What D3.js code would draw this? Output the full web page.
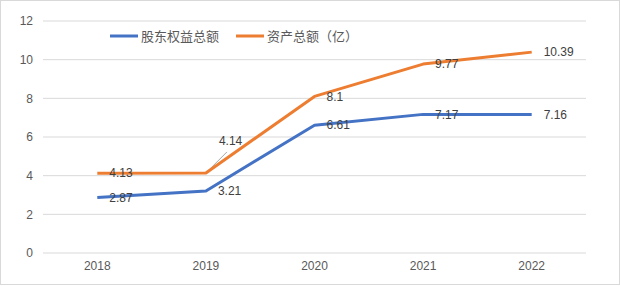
<!DOCTYPE html>
<html>
<head>
<meta charset="utf-8">
<script src="https://cdn.jsdelivr.net/npm/d3@7"></script>
<style>
  body { margin: 0; background: #fff; }
  text { font-family: "Liberation Sans", "Noto Sans CJK SC", sans-serif; }
</style>
</head>
<body>
<svg width="620" height="286"></svg>
<script>
// data
const years = ["2018", "2019", "2020", "2021", "2022"];
const equity = [2.87, 3.21, 6.61, 7.17, 7.16];
const assets = [4.13, 4.14, 8.1, 9.77, 10.39];
const seriesNames = ["股东权益总额", "资产总额（亿）"];
const yTicks = [0, 2, 4, 6, 8, 10, 12];

const colors = ["#4472C4", "#ED7D31"];

const svg = d3.select("svg");

// frame
svg.append("rect")
    .attr("x", 0.5).attr("y", 0.5)
    .attr("width", 619).attr("height", 284)
    .attr("fill", "#fff")
    .attr("stroke", "#d9d9d9");

const plotLeft = 43, plotRight = 586, plotTop = 21, plotBottom = 253;

const x = d3.scalePoint().domain(years).range([plotLeft, plotRight]).padding(0.5);
const y = d3.scaleLinear().domain([0, 12]).range([plotBottom, plotTop]);

// gridlines
svg.append("g").selectAll("line")
    .data(yTicks)
    .enter().append("line")
    .attr("x1", plotLeft).attr("x2", plotRight)
    .attr("y1", d => y(d)).attr("y2", d => y(d))
    .attr("stroke", "#d9d9d9")
    .attr("stroke-width", 1);

// y axis labels
svg.append("g").selectAll("text")
    .data(yTicks)
    .enter().append("text")
    .attr("x", 33)
    .attr("y", d => y(d))
    .attr("dy", "0.35em")
    .attr("text-anchor", "end")
    .attr("font-size", 12)
    .attr("fill", "#595959")
    .text(d => d);

// x axis labels
svg.append("g").selectAll("text")
    .data(years)
    .enter().append("text")
    .attr("x", d => x(d))
    .attr("y", 270)
    .attr("text-anchor", "middle")
    .attr("font-size", 12)
    .attr("fill", "#595959")
    .text(d => d);

const line = d3.line()
    .x((d, i) => x(years[i]))
    .y(d => y(d));

const series = [equity, assets];

// leader line for 4.14 label
svg.append("line")
    .attr("x1", x("2019") + 1).attr("y1", y(assets[1]) - 1)
    .attr("x2", x("2019") + 21).attr("y2", y(assets[1]) - 21)
    .attr("stroke", "#a6a6a6")
    .attr("stroke-width", 1);

series.forEach((s, k) => {
    svg.append("path")
        .datum(s)
        .attr("fill", "none")
        .attr("stroke", colors[k])
        .attr("stroke-width", 3)
        .attr("stroke-linejoin", "round")
        .attr("d", line);
});

// data labels
series.forEach((s, k) => {
    svg.append("g").selectAll("text")
        .data(s)
        .enter().append("text")
        .attr("x", (d, i) => x(years[i]) + 12 + (k === 1 && i === 1 ? 1 : 0))
        .attr("y", (d, i) => y(d) + (k === 1 && i === 1 ? -32 : 0))
        .attr("dy", "0.35em")
        .attr("font-size", 12)
        .attr("fill", "#404040")
        .text(d => d);
});

// legend
const legend = svg.append("g");
const legendX = [110, 236];
seriesNames.forEach((n, k) => {
    legend.append("line")
        .attr("x1", legendX[k]).attr("x2", legendX[k] + 28)
        .attr("y1", 36).attr("y2", 36)
        .attr("stroke", colors[k])
        .attr("stroke-width", 3);
    legend.append("text")
        .attr("x", legendX[k] + 31)
        .attr("y", 36)
        .attr("dy", "0.35em")
        .attr("font-size", 13)
        .attr("fill", "#595959")
        .text(n);
});
</script>
</body>
</html>
